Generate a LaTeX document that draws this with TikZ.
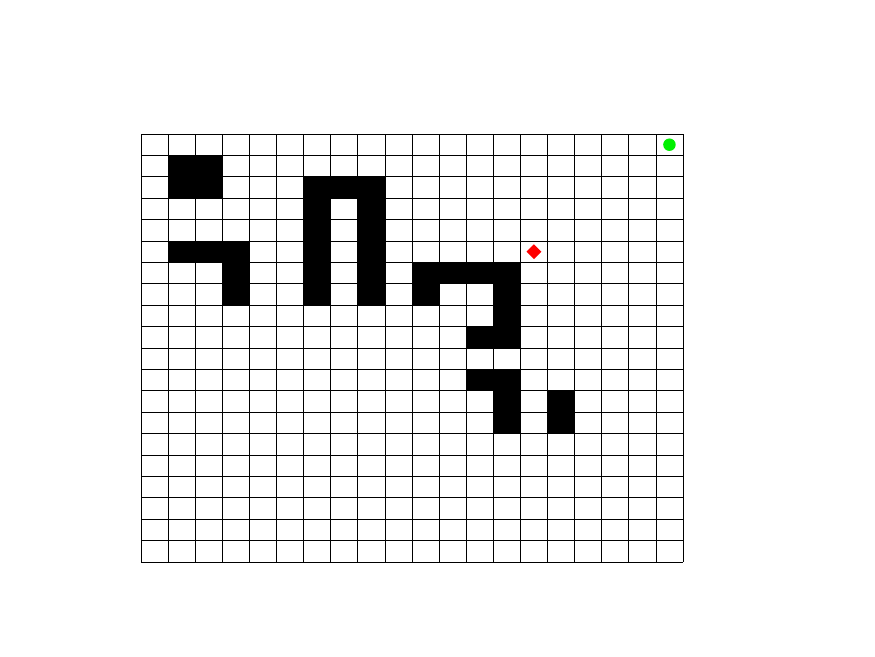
\documentclass[tikz,border=0pt]{standalone}
\usepackage{xcolor}
\usepackage{tikz}
\usetikzlibrary{shapes.geometric}
\definecolor{agentred}{RGB}{255,0,0}
\definecolor{goalgreen}{RGB}{0,240,0}

\begin{document}
\begin{tikzpicture}[
  x=27.1pt, y=-21.4pt,
  cellline/.style={draw=black, line width=0.8pt},
  wall/.style={fill=black},
  agent/.style={diamond, fill=agentred, inner sep=0pt, minimum size=15pt},
  goal/.style={circle, fill=goalgreen, inner sep=0pt, minimum size=12.5pt},
]
  % Canvas
  \useasboundingbox (-5.203,-6.262) rectangle (27.085,24.393);

  % Grid lines
  \foreach \i in {0,...,20} {
    \draw[cellline] (\i,0) -- (\i,20);
    \draw[cellline] (0,\i) -- (20,\i);
  }

  % Obstacles (column, row from top)
  \foreach \c/\r in {1/1, 2/1, 1/2, 2/2,
                     1/5, 2/5, 3/5, 3/6, 3/7,
                     6/2, 7/2, 8/2, 6/3, 6/4, 6/5, 6/6, 6/7, 8/3, 8/4, 8/5, 8/6, 8/7,
                     10/6, 11/6, 12/6, 13/6, 10/7, 13/7, 13/8, 12/9, 13/9,
                     12/11, 13/11, 13/12, 13/13, 15/12, 15/13} {
    \fill[wall] (\c,\r) rectangle (\c+1,\r+1);
  }

  % Agent and goal
  \node[agent] (agent) at (14.5,5.5) {};
  \node[goal] (goal) at (19.5,0.5) {};
\end{tikzpicture}
\end{document}
